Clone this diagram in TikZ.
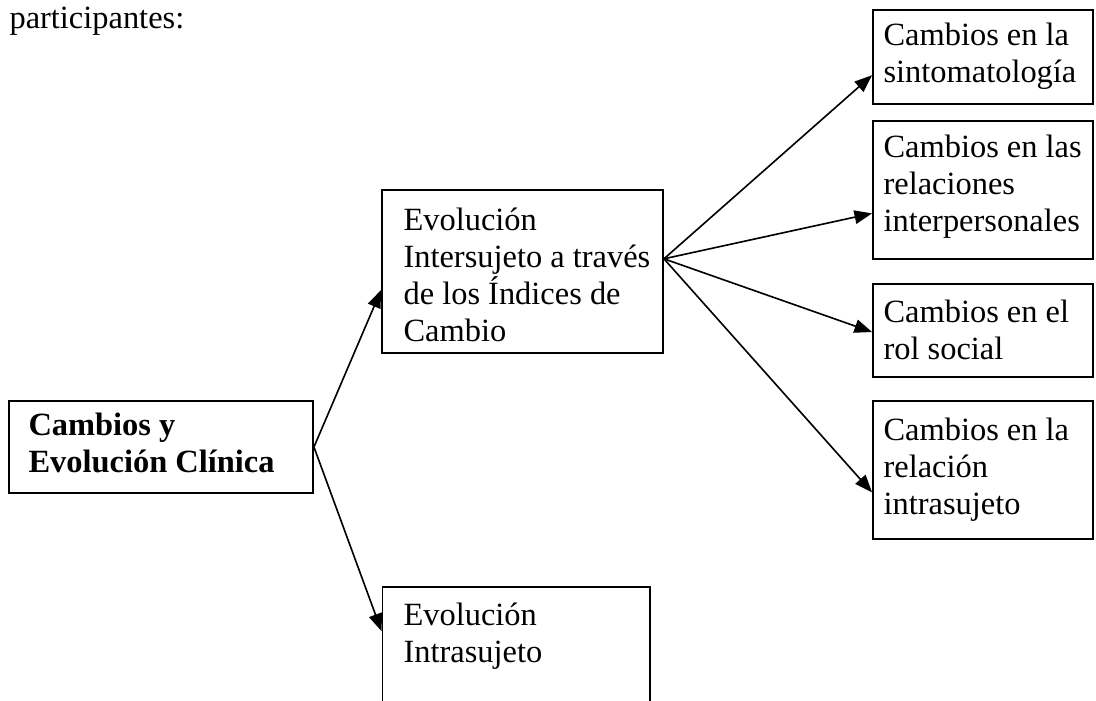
\documentclass[tikz,border=0pt]{standalone}
\usepackage{fontspec}
\setmainfont{Liberation Serif}
\usetikzlibrary{arrows.meta,calc,fit}
\begin{document}
\begin{tikzpicture}[x=0.37pt,y=-0.37pt,
  box/.style={draw=black,line width=0.7pt,inner sep=0pt,rectangle},
  txt/.style={anchor=base west,inner sep=0pt,align=left,text width=300pt,
    font=\fontsize{12}{13.7}\selectfont,
    execute at begin node={\spaceskip=0.25em\relax}},
  arr/.style={draw=black,line width=0.6pt,-{Triangle[length=6.5pt,width=5pt]}}]
\useasboundingbox (0,0) rectangle (1096,700);
\clip (0,0) rectangle (1096,700);
% boxes
\node[box,fit={(9,401) (313,493)}] (main) {};
\node[box,fit={(382,190) (663,353)}] (inter) {};
\node[box,fit={(382.5,587) (650,760)}] (intra) {};
\node[box,fit={(873,10) (1093,104)}] (r1) {};
\node[box,fit={(873,121) (1093,259)}] (r2) {};
\node[box,fit={(873,284) (1093,377)}] (r3) {};
\node[box,fit={(873,401) (1093,539)}] (r4) {};
% texts
\node[txt] (title) at (9,28) {participantes:};
\node[txt,font=\fontsize{12}{13.7}\selectfont\bfseries] (tmain) at (28,435) {Cambios y\\Evolución Clínica};
\node[txt] (tinter) at (403,230) {Evolución\\Intersujeto a través\\de los Índices de\\Cambio};
\node[txt] (tintra) at (403,625) {Evolución\\Intrasujeto};
\node[txt] (tr1) at (883,45) {Cambios en la\\sintomatología};
\node[txt] (tr2) at (883,157) {Cambios en las\\relaciones\\interpersonales};
\node[txt] (tr3) at (883,322) {Cambios en el\\rol social};
\node[txt] (tr4) at (883,440) {Cambios en la\\relación\\intrasujeto};
% connectors
\coordinate (src) at ($(inter.north east)!0.423!(inter.south east)$);
\draw[arr] (main.east) -- ($(inter.north west)!0.613!(inter.south west)$);
\draw[arr] (main.east) -- ($(intra.north west)!0.258!(intra.south west)$);
\draw[arr] (src) -- ($(r1.north west)!0.69!(r1.south west)$);
\draw[arr] (src) -- ($(r2.north west)!0.667!(r2.south west)$);
\draw[arr] (src) -- ($(r3.north west)!0.516!(r3.south west)$);
\draw[arr] (src) -- ($(r4.north west)!0.66!(r4.south west)$);
\end{tikzpicture}
\end{document}
